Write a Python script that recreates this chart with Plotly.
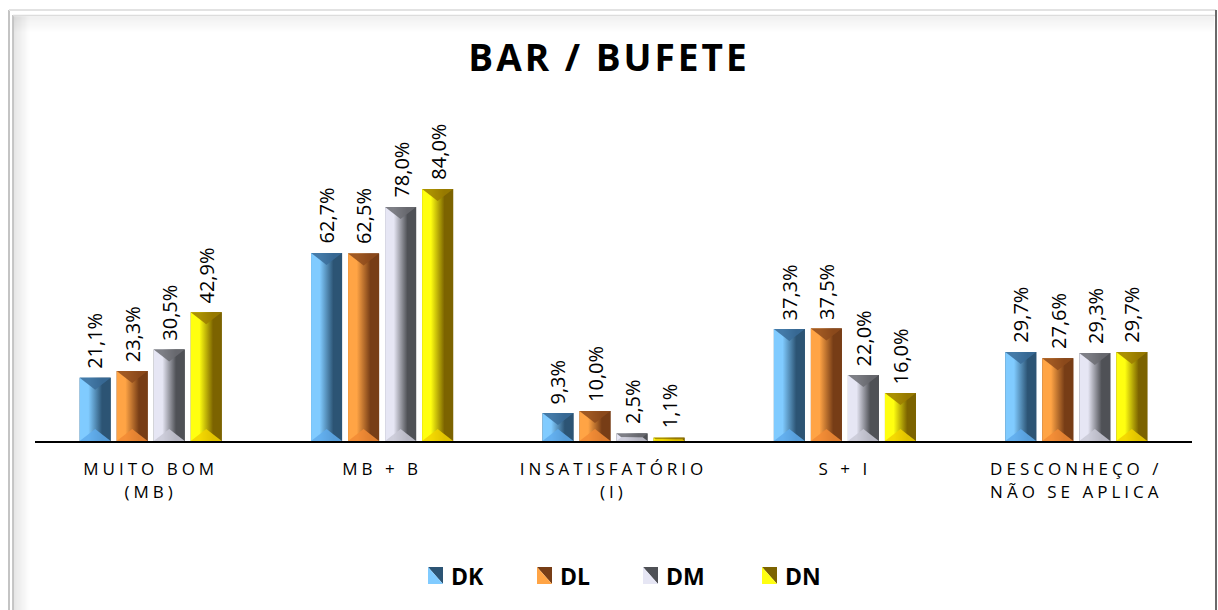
import plotly.graph_objects as go

# ---- data ----
categories = ["MUITO BOM<br>(MB)", "MB + B", "INSATISFATÓRIO<br>(I)", "S + I",
              "DESCONHEÇO /<br>NÃO SE APLICA"]
series_names = ["DK", "DL", "DM", "DN"]
dk = [21.1, 62.7, 9.3, 37.3, 29.7]
dl = [23.3, 62.5, 10.0, 37.5, 27.6]
dm = [30.5, 78.0, 2.5, 22.0, 29.3]
dn = [42.9, 84.0, 1.1, 16.0, 29.7]
series_values = [dk, dl, dm, dn]

# ---- styling ----
W, H = 1218, 610
M_L, M_R, M_T, M_B = 35, 26, 100, 169
PX_PER_UNIT_Y = 3.0
Y_MAX = (H - M_T - M_B) / PX_PER_UNIT_Y
PLOT_W = W - M_L - M_R
PX_PER_UNIT_X = PLOT_W / 5.0

# light edge, dark edge, top face, bottom face
palettes = {
    "DK": ("#80cbff", "#2c5474", "#3a6c99", "#5fabec"),
    "DL": ("#ffa445", "#773d16", "#8e4b1c", "#f28b35"),
    "DM": ("#e6e6f4", "#4f5156", "#6b6c72", "#c9c9d6"),
    "DN": ("#ffff10", "#7c6300", "#9b7c00", "#f2d200"),
}
BAR_STEP = 0.16
BAR_W = 0.134
FONT = "Open Sans"

x_idx = list(range(len(categories)))
fig = go.Figure()
shapes = []
annotations = []

for s, (name, vals) in enumerate(zip(series_names, series_values)):
    light, dark, top_c, bot_c = palettes[name]
    center_off = (s - 1.5) * BAR_STEP
    fig.add_trace(go.Bar(
        x=x_idx, y=vals, name=name,
        width=BAR_W, offset=center_off - BAR_W / 2,
        marker=dict(color=dark, line=dict(width=0)),
        showlegend=False, hoverinfo="skip",
    ))
    for i, v in zip(x_idx, vals):
        x0 = i + center_off - BAR_W / 2
        x1 = x0 + BAR_W
        xm = (x0 + x1) / 2
        # bevelled front face with horizontal gradient
        fig.add_trace(go.Scatter(
            x=[x0, x1, x1, x0, x0], y=[0, 0, v, v, 0],
            mode="lines", line=dict(width=0), fill="toself",
            fillgradient=dict(type="horizontal", start=x0, stop=x1,
                              colorscale=[[0, light], [0.28, light],
                                          [0.72, dark], [1, dark]]),
            showlegend=False, hoverinfo="skip",
        ))
        # top and bottom bevel faces
        half_w_px = BAR_W * PX_PER_UNIT_X / 2
        depth_px = min(12.0, v * PX_PER_UNIT_Y / 2)
        dy = depth_px / PX_PER_UNIT_Y
        dx_in = half_w_px * min(1.0, depth_px / 12.0) / PX_PER_UNIT_X
        shapes.append(dict(type="path", xref="x", yref="y", layer="above",
                           path=f"M{x0},{v} L{x1},{v} L{xm + (BAR_W/2 - dx_in)},{v - dy} "
                                f"L{xm - (BAR_W/2 - dx_in)},{v - dy} Z",
                           fillcolor=top_c, line=dict(width=0), opacity=0.85))
        shapes.append(dict(type="path", xref="x", yref="y", layer="above",
                           path=f"M{x0},0 L{x1},0 L{xm + (BAR_W/2 - dx_in)},{dy} "
                                f"L{xm - (BAR_W/2 - dx_in)},{dy} Z",
                           fillcolor=bot_c, line=dict(width=0), opacity=0.85))
        # value label, rotated, just above the bar
        annotations.append(dict(xref="x", yref="y", x=xm, y=v,
                                text=f"{v:.1f}%".replace(".", ","),
                                textangle=-90, xanchor="center", yanchor="bottom",
                                yshift=7, showarrow=False,
                                font=dict(family=FONT, size=20, color="#000000")))


def px(xp):
    return (xp - M_L) / PLOT_W


def py(yp):
    return (H - M_B - yp) / (H - M_T - M_B)


# legend drawn as bevelled squares with bold labels
legend_sym_x = [428, 537, 643, 762]
for name, lx in zip(series_names, legend_sym_x):
    light, dark, _, _ = palettes[name]
    x0, x1, y0, y1 = px(lx), px(lx + 15), py(584), py(567)
    shapes.append(dict(type="path", xref="paper", yref="paper",
                       path=f"M{x0},{y1} L{x1},{y1} L{x1},{y0} Z",
                       fillcolor=dark, line=dict(width=0)))
    shapes.append(dict(type="path", xref="paper", yref="paper",
                       path=f"M{x0},{y1} L{x0},{y0} L{x1},{y0} Z",
                       fillcolor=light, line=dict(width=0)))
    annotations.append(dict(xref="paper", yref="paper", x=px(lx + 21), y=py(576),
                            xanchor="left", yanchor="middle", showarrow=False,
                            text=f"<b>{name}</b>",
                            font=dict(family=FONT, size=23, color="#000000")))

# frame with soft inner shadow
for k in range(16):
    a = 0.10 * (1 - k / 16)
    shapes.append(dict(type="line", xref="paper", yref="paper",
                       x0=px(14 + k), x1=px(14 + k), y0=py(16), y1=py(640),
                       line=dict(color=f"rgba(0,0,0,{a:.3f})", width=1)))
    shapes.append(dict(type="line", xref="paper", yref="paper",
                       x0=px(14), x1=px(1214), y0=py(17 + k), y1=py(17 + k),
                       line=dict(color=f"rgba(0,0,0,{a * 0.6:.3f})", width=1)))
shapes += [
    dict(type="line", xref="paper", yref="paper", x0=px(9), x1=px(9), y0=py(10), y1=py(640),
         line=dict(color="#c4c4c4", width=2)),
    dict(type="line", xref="paper", yref="paper", x0=px(13), x1=px(13), y0=py(15), y1=py(640),
         line=dict(color="#b4b4b4", width=1.5)),
    dict(type="line", xref="paper", yref="paper", x0=px(9), x1=px(1216), y0=py(10), y1=py(10),
         line=dict(color="#e2e2e2", width=2)),
    dict(type="line", xref="paper", yref="paper", x0=px(13), x1=px(1216), y0=py(15.5), y1=py(15.5),
         line=dict(color="#dcdcdc", width=1.5)),
    dict(type="line", xref="paper", yref="paper", x0=px(1216), x1=px(1216), y0=py(10), y1=py(640),
         line=dict(color="#6a6a6a", width=2)),
]

fig.update_layout(
    width=W, height=H, margin=dict(l=M_L, r=M_R, t=M_T, b=M_B),
    paper_bgcolor="white", plot_bgcolor="white",
    barmode="overlay", showlegend=False,
    title=dict(text="<b>BAR / BUFETE</b>", x=0.5, xanchor="center",
               y=1 - 58 / H, yanchor="middle", yref="container",
               font=dict(family=FONT, size=37, color="#000000")),
    xaxis=dict(range=[-0.5, 4.5], tickvals=x_idx, ticktext=categories,
               showgrid=False, zeroline=False, showline=True,
               linecolor="#000000", linewidth=2, ticks="",
               ticklabelstandoff=12,
               tickfont=dict(family=FONT, size=17, color="#000000"),
               fixedrange=True),
    yaxis=dict(range=[0, Y_MAX], visible=False, fixedrange=True),
    shapes=shapes, annotations=annotations,
)

post = """
var gd = document.getElementById('{plot_id}');
function spacing(){
  gd.querySelectorAll('.xtick text').forEach(function(e){ e.style.letterSpacing = '4px'; });
  gd.querySelectorAll('.gtitle').forEach(function(e){ e.style.letterSpacing = '3px'; });
}
spacing();
gd.on('plotly_afterplot', spacing);
"""

fig.write_html("out.html", post_script=post, config={"displayModeBar": False})
